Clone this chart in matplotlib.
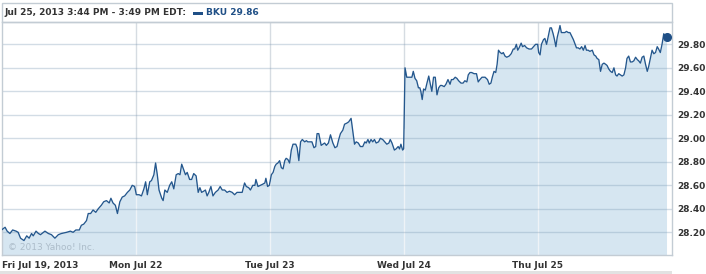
import matplotlib
matplotlib.use('Agg')
import matplotlib.pyplot as plt
from matplotlib.patches import Rectangle
import numpy as np

# ---------------- data ----------------
day_labels = ["Fri Jul 19, 2013", "Mon Jul 22", "Tue Jul 23", "Wed Jul 24", "Thu Jul 25"]
session_minutes = 390  # 9:30 - 16:00

# minutes after the open, and price, per session
fri_min = [0, 9, 15, 23, 31, 41, 47, 54, 64, 72, 79, 86, 91, 99, 106, 112, 125, 135, 144, 154,
           164, 173, 188, 199, 207, 215, 225, 231, 238, 246, 251, 258, 265, 273, 280, 289, 296,
           304, 312, 317, 323, 330, 336, 343, 350, 357, 365, 372, 379, 386]
fri_val = [28.223, 28.243, 28.21, 28.19, 28.22, 28.21, 28.20, 28.15, 28.13, 28.17, 28.15, 28.19,
           28.17, 28.21, 28.19, 28.18, 28.21, 28.19, 28.18, 28.15, 28.18, 28.19, 28.20, 28.21,
           28.20, 28.22, 28.22, 28.26, 28.27, 28.30, 28.36, 28.36, 28.39, 28.37, 28.40, 28.43,
           28.46, 28.47, 28.45, 28.49, 28.45, 28.43, 28.36, 28.46, 28.50, 28.51, 28.54, 28.56,
           28.60, 28.59]

mon_min = [1, 9, 16, 23, 28, 33, 40, 45, 52, 57, 62, 67, 75, 79, 84, 91, 98, 104, 110, 117,
           123, 128, 133, 139, 144, 149, 156, 162, 168, 175, 181, 186, 191, 197, 202, 207, 212,
           218, 224, 231, 239, 245, 251, 258, 265, 272, 280, 287, 294, 301, 309, 316, 321, 328,
           333, 340, 346, 349, 355, 362, 369, 375, 378, 383, 388]
mon_val = [28.52, 28.52, 28.51, 28.57, 28.63, 28.52, 28.63, 28.64, 28.69, 28.79, 28.69, 28.56,
           28.49, 28.47, 28.56, 28.54, 28.60, 28.63, 28.57, 28.69, 28.70, 28.69, 28.78, 28.73,
           28.69, 28.71, 28.65, 28.65, 28.70, 28.68, 28.54, 28.58, 28.54, 28.55, 28.56, 28.51,
           28.54, 28.59, 28.51, 28.54, 28.56, 28.59, 28.56, 28.56, 28.54, 28.55, 28.54, 28.52,
           28.54, 28.54, 28.54, 28.62, 28.59, 28.58, 28.56, 28.60, 28.60, 28.65, 28.59, 28.60,
           28.61, 28.62, 28.66, 28.59, 28.60]

tue_min = [4, 9, 14, 18, 23, 28, 33, 38, 43, 47, 52, 57, 62, 67, 75, 79, 84, 89, 94, 101,
           106, 110, 115, 122, 128, 133, 137, 142, 149, 154, 159, 164, 170, 176, 183, 189, 195,
           200, 205, 212, 217, 224, 229, 236, 241, 246, 251, 257, 263, 270, 276, 280, 285, 289,
           294, 299, 304, 309, 316, 321, 328, 334, 340, 346, 350, 355, 362, 367, 373, 377, 381,
           386, 389]
tue_val = [28.69, 28.71, 28.76, 28.78, 28.79, 28.81, 28.75, 28.74, 28.81, 28.83, 28.82, 28.79,
           28.90, 28.95, 28.95, 28.92, 28.81, 28.97, 28.99, 28.97, 28.98, 28.97, 28.97, 28.97,
           28.92, 28.93, 29.04, 29.04, 28.94, 28.95, 28.96, 28.94, 28.96, 29.03, 28.96, 28.92,
           28.93, 28.99, 29.04, 29.07, 29.12, 29.13, 29.14, 29.17, 29.06, 28.95, 28.97, 28.96,
           28.93, 28.93, 28.97, 28.96, 28.99, 28.96, 28.99, 28.97, 28.99, 28.96, 28.97, 29.00,
           28.99, 28.97, 28.95, 28.96, 28.99, 28.96, 28.90, 28.91, 28.93, 28.91, 28.95, 28.90,
           28.91]

wed_min = [3, 8, 13, 17, 23, 27, 32, 37, 42, 46, 49, 53, 57, 62, 66, 72, 76, 81, 86, 91,
           96, 101, 106, 110, 117, 122, 128, 134, 138, 143, 149, 154, 159, 166, 172, 177, 183,
           187, 192, 197, 204, 211, 216, 221, 227, 231, 236, 243, 248, 253, 257, 262, 267, 271,
           275, 280, 285, 289, 294, 299, 306, 312, 318, 322, 327, 331, 335, 341, 345, 351, 357,
           364, 371, 377, 383, 389]
wed_val = [29.60, 29.52, 29.52, 29.52, 29.52, 29.57, 29.51, 29.49, 29.43, 29.43, 29.40, 29.33,
           29.42, 29.41, 29.46, 29.53, 29.47, 29.40, 29.52, 29.52, 29.37, 29.43, 29.45, 29.45,
           29.44, 29.46, 29.50, 29.46, 29.50, 29.50, 29.52, 29.51, 29.49, 29.47, 29.47, 29.49,
           29.48, 29.54, 29.56, 29.56, 29.55, 29.55, 29.48, 29.50, 29.52, 29.52, 29.52, 29.50,
           29.46, 29.47, 29.52, 29.57, 29.56, 29.63, 29.75, 29.73, 29.72, 29.73, 29.70, 29.69,
           29.70, 29.72, 29.76, 29.76, 29.80, 29.75, 29.77, 29.81, 29.78, 29.79, 29.77, 29.76,
           29.76, 29.78, 29.80, 29.80]

thu_min = [2, 6, 10, 16, 20, 25, 30, 35, 39, 44, 48, 52, 56, 61, 64, 68, 74, 78, 83, 88,
           93, 98, 103, 108, 112, 117, 122, 127, 132, 137, 141, 146, 151, 158, 163, 168, 172,
           177, 182, 187, 192, 197, 201, 206, 211, 216, 221, 226, 230, 235, 240, 245, 250, 255,
           259, 264, 269, 274, 279, 284, 289, 293, 298, 303, 308, 313, 318, 322, 327, 332, 337,
           342, 347, 351, 356, 361, 366, 370, 374]
thu_val = [29.73, 29.71, 29.80, 29.84, 29.85, 29.80, 29.87, 29.94, 29.94, 29.89, 29.84, 29.78,
           29.86, 29.92, 29.96, 29.90, 29.90, 29.90, 29.91, 29.90, 29.90, 29.87, 29.84, 29.80,
           29.77, 29.77, 29.76, 29.78, 29.75, 29.79, 29.75, 29.75, 29.74, 29.75, 29.71, 29.70,
           29.68, 29.67, 29.57, 29.63, 29.64, 29.63, 29.62, 29.59, 29.57, 29.56, 29.60, 29.54,
           29.53, 29.55, 29.54, 29.53, 29.54, 29.60, 29.68, 29.70, 29.65, 29.65, 29.66, 29.69,
           29.67, 29.66, 29.64, 29.69, 29.70, 29.63, 29.57, 29.61, 29.68, 29.75, 29.72, 29.73,
           29.78, 29.76, 29.73, 29.80, 29.89, 29.87, 29.86]

y_ticks = [28.20, 28.40, 28.60, 28.80, 29.00, 29.20, 29.40, 29.60, 29.80]
header_text = "Jul 25, 2013 3:44 PM - 3:49 PM EDT:"
legend_text = "BKU 29.86"
watermark = "\u00a9 2013 Yahoo! Inc."

# --------------- build series ---------------
sessions = [(fri_min, fri_val), (mon_min, mon_val), (tue_min, tue_val),
            (wed_min, wed_val), (thu_min, thu_val)]
xs, ys = [], []
for i, (m, v) in enumerate(sessions):
    xs.extend([i * session_minutes + t for t in m])
    ys.extend(v)
xs = np.array(xs, dtype=float)
ys = np.array(ys)

# --------------- figure ---------------
W, H = 706, 274
fig = plt.figure(figsize=(W / 100, H / 100), dpi=100)
fig.patch.set_facecolor('white')

left, right, top, bottom = 2, 672, 22, 255
ax = fig.add_axes([left / W, 1 - bottom / H, (right - left) / W, (bottom - top) / H])
ymin, ymax = 28.007, 29.99
ax.set_xlim(0, 5 * session_minutes)
ax.set_ylim(ymin, ymax)

fill_c = '#d6e6f1'
line_c = '#24578d'
grid_c = '#d6dce2'
frame_c = '#c3ccd4'
text_c = '#333333'

# vertical gridlines (behind)
day_starts = [i * session_minutes for i in range(5)]
for d in day_starts[1:]:
    ax.axvline(d, color=grid_c, lw=1, zorder=0)

ax.fill_between(xs, ys, ymin, color=fill_c, lw=0, zorder=1)

# vertical gridlines showing over the filled area
for d in day_starts[1:]:
    yv = np.interp(d, xs, ys)
    ax.plot([d, d], [ymin, yv], color='#eef3f7', lw=1, zorder=2)

# horizontal gridlines
for t in y_ticks:
    ax.axhline(t, color='#7f9cb5', alpha=0.35, lw=1, zorder=2)

ax.plot(xs, ys, color=line_c, lw=0.95, zorder=3)
ax.plot(xs[-1:], ys[-1:], 'o', color='#1f4f86', ms=5.5, zorder=4)

ax.set_yticks(y_ticks)
ax.set_yticklabels([f"{t:.2f}" for t in y_ticks])
ax.yaxis.tick_right()
ax.tick_params(axis='y', length=0, pad=4, labelsize=6.5, labelcolor=text_c)
ax.set_xticks(day_starts)
ax.set_xticklabels(day_labels)
ax.tick_params(axis='x', length=0, pad=4, labelsize=6.5, labelcolor=text_c)
for lbl in ax.get_yticklabels() + ax.get_xticklabels():
    lbl.set_fontweight('bold')
ax.get_xticklabels()[0].set_horizontalalignment('left')

for s in ax.spines.values():
    s.set_color(frame_c)
    s.set_linewidth(1)

ax.text(6 / (right - left), (bottom - 247) / (bottom - top), watermark,
        transform=ax.transAxes, fontsize=6.5, color='#adbdca', va='center', ha='left', zorder=5)

# header box
fig.add_artist(Rectangle((left / W, 1 - top / H), (right - left) / W, (top - 3) / H,
                         transform=fig.transFigure, fill=False, edgecolor=frame_c, lw=1))
fig.text(4 / W, 1 - 12.5 / H, header_text, fontsize=6.5, fontweight='bold', color=text_c,
         va='center', ha='left')
fig.add_artist(Rectangle((193 / W, 1 - 15 / H), 10 / W, 3 / H, transform=fig.transFigure,
                         color='#1f4f86', lw=0))
fig.text(206 / W, 1 - 12.5 / H, legend_text, fontsize=6.5, fontweight='bold', color='#1f4f86',
         va='center', ha='left')

# bottom grey band
fig.add_artist(Rectangle((0, 0), right / W, 3.5 / H, transform=fig.transFigure,
                         color='#e2e2e2', lw=0))

fig.savefig('out.png', dpi=100)
